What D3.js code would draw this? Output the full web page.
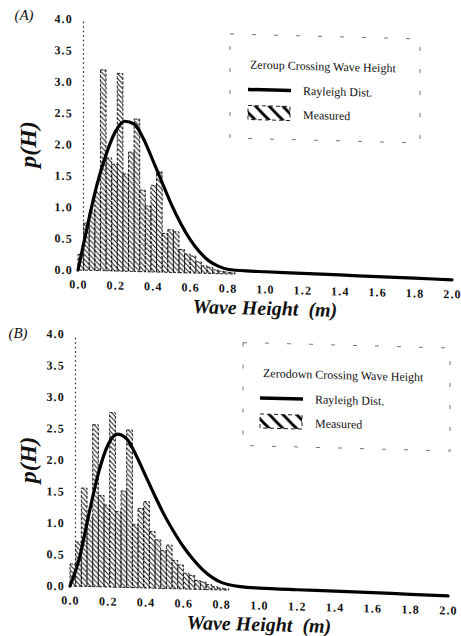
<!DOCTYPE html>
<html lang="en">
<head>
<meta charset="UTF-8">
<script src="https://d3js.org/d3.v7.min.js"></script>
<style>
    body {
        margin: 0;
        background: #fff;
    }
    svg text {
        font-family: "Liberation Serif", "Times New Roman", serif;
        fill: #111;
    }
    .tick text {
        font-size: 12px;
        font-weight: bold;
        letter-spacing: 1.2px;
    }
    .axis-title {
        font-size: 20px;
        font-weight: bold;
        font-style: italic;
    }
    .ylab {
        font-size: 24px;
        font-weight: bold;
        font-style: italic;
    }
    .tag {
        font-size: 15px;
        font-style: italic;
    }
    .legend-text {
        font-size: 12px;
    }
</style>
</head>
<body>
<div id="chart"></div>
<script>
    // histogram bins (m), 0.03 m wide
    const binStart = [0.00, 0.03, 0.06, 0.09, 0.12, 0.15, 0.18, 0.21, 0.24, 0.27,
                      0.30, 0.33, 0.36, 0.39, 0.42, 0.45, 0.48, 0.51, 0.54, 0.57,
                      0.60, 0.63, 0.66, 0.69, 0.72, 0.75, 0.78, 0.81];
    const binWidth = 0.03;

    // measured p(H), zero-up and zero-down crossings
    const measuredUp = [0.25, 0.75, 0.95, 1.25, 3.2, 1.8, 1.7, 3.15, 1.55, 1.9,
                        2.43, 1.3, 1.05, 1.38, 1.6, 0.62, 0.68, 0.65, 0.37, 0.3,
                        0.27, 0.18, 0.12, 0.1, 0.06, 0.04, 0.03, 0.02];
    const measuredDown = [0.35, 0.7, 1.56, 1.1, 2.57, 1.45, 1.3, 2.77, 1.2, 1.53,
                          2.5, 1.0, 1.26, 1.37, 0.9, 0.77, 0.6, 0.69, 0.45, 0.38,
                          0.25, 0.22, 0.14, 0.12, 0.08, 0.05, 0.03, 0.02];

    // Rayleigh curve points
    const curveH = [0, 0.05, 0.1, 0.15, 0.2, 0.25, 0.3, 0.35, 0.4, 0.45, 0.5, 0.55,
                    0.6, 0.65, 0.7, 0.75, 0.8, 0.9, 1.0, 1.2, 1.4, 1.6, 1.8, 2.0];
    const rayleighUp = [0, 0.7, 1.35, 1.85, 2.22, 2.39, 2.35, 2.12, 1.78, 1.43, 1.08, 0.78,
                        0.53, 0.34, 0.2, 0.12, 0.075, 0.055, 0.05, 0.04, 0.03, 0.02, 0.01, 0];
    const rayleighDown = [0, 0.45, 1.15, 1.8, 2.25, 2.43, 2.36, 2.1, 1.78, 1.46, 1.16, 0.9,
                          0.67, 0.48, 0.32, 0.2, 0.12, 0.06, 0.045, 0.035, 0.03, 0.02, 0.01, 0];

    const xTicks = [0, 0.2, 0.4, 0.6, 0.8, 1.0, 1.2, 1.4, 1.6, 1.8, 2.0];
    const yTicks = [0, 0.5, 1.0, 1.5, 2.0, 2.5, 3.0, 3.5, 4.0];

    const panels = [
        {tag: "(A)", tagPos: [24, 20], title: "Zeroup Crossing Wave Height",
         measured: measuredUp, rayleigh: rayleighUp,
         left: 78, right: 452, base: 270, top: 19,
         box: [230, 30, 190, 104], leg: [248, 250]},
        {tag: "(B)", tagPos: [18, 338], title: "Zerodown Crossing Wave Height",
         measured: measuredDown, rayleigh: rayleighDown,
         left: 70, right: 448, base: 586, top: 334,
         box: [243, 338, 207, 103], leg: [260, 263]}
    ];

    const svg = d3.select("#chart")
        .append("svg")
        .attr("width", 461)
        .attr("height", 636);

    const defs = svg.append("defs");

    defs.append("pattern")
        .attr("id", "hatch")
        .attr("patternUnits", "userSpaceOnUse")
        .attr("width", 5)
        .attr("height", 5)
        .append("path")
        .attr("d", "M0,0 L5,5 M-1,4 L1,6 M4,-1 L6,1")
        .attr("stroke", "#111")
        .attr("stroke-width", 0.9);

    defs.append("pattern")
        .attr("id", "hatchBig")
        .attr("patternUnits", "userSpaceOnUse")
        .attr("width", 14)
        .attr("height", 14)
        .append("path")
        .attr("d", "M0,0 L14,14 M-4,10 L4,18 M10,-4 L18,4")
        .attr("stroke", "#000")
        .attr("stroke-width", 3);

    panels.forEach(p => {
        // the scanned page is slightly sheared, so each panel leans a little
        const g = svg.append("g")
            .attr("transform", `translate(${p.left},0) skewY(1.5) translate(${-p.left},0)`);

        const x = d3.scaleLinear().domain([0, 2]).range([p.left, p.right]);
        const y = d3.scaleLinear().domain([0, 4]).range([p.base, p.top]);

        // measured histogram
        g.selectAll(".bar")
            .data(p.measured)
            .enter()
            .append("rect")
            .attr("class", "bar")
            .attr("x", (d, i) => x(binStart[i]))
            .attr("y", d => y(d))
            .attr("width", x(binWidth) - x(0))
            .attr("height", d => y(0) - y(d))
            .attr("fill", "url(#hatch)")
            .attr("stroke", "#111")
            .attr("stroke-width", 0.9)
            .attr("stroke-dasharray", "3,1.5");

        // Rayleigh distribution
        const line = d3.line()
            .x((d, i) => x(curveH[i]))
            .y(d => y(d))
            .curve(d3.curveMonotoneX);

        g.append("path")
            .datum(p.rayleigh)
            .attr("d", line)
            .attr("fill", "none")
            .attr("stroke", "#000")
            .attr("stroke-width", 3.2)
            .attr("stroke-linecap", "round");

        // axes: labels only, dotted y axis line
        const xAxis = g.append("g")
            .attr("transform", `translate(0,${p.base})`)
            .call(d3.axisBottom(x).tickValues(xTicks).tickSize(0).tickPadding(10)
                .tickFormat(d3.format(".1f")));
        xAxis.select(".domain").remove();

        const yAxis = g.append("g")
            .attr("transform", `translate(${p.left + 5},0)`)
            .call(d3.axisLeft(y).tickValues(yTicks).tickSize(0).tickSizeOuter(0).tickPadding(10)
                .tickFormat(d3.format(".1f")));
        yAxis.select(".domain")
            .attr("stroke", "#222")
            .attr("stroke-width", 1.2)
            .attr("stroke-dasharray", "1.5,3");

        g.selectAll(".tick text").attr("font-family", null).attr("font-size", null);

        g.append("text")
            .attr("class", "axis-title")
            .attr("x", x(1.0))
            .attr("y", p.base + 40)
            .attr("text-anchor", "middle")
            .attr("xml:space", "preserve")
            .text("Wave Height  (m)");

        svg.append("text")
            .attr("class", "ylab")
            .attr("transform", `translate(36,${(p.base + p.top) / 2}) rotate(-90)`)
            .attr("text-anchor", "middle")
            .text("p(H)");

        svg.append("text")
            .attr("class", "tag")
            .attr("x", p.tagPos[0])
            .attr("y", p.tagPos[1])
            .attr("text-anchor", "middle")
            .text(p.tag);

        // legend
        const [bx, by, bw, bh] = p.box;
        g.append("rect")
            .attr("x", bx).attr("y", by)
            .attr("width", bw).attr("height", bh)
            .attr("fill", "none")
            .attr("stroke", "#777")
            .attr("stroke-width", 1)
            .attr("stroke-dasharray", "4,18");

        const sx = p.leg[0];
        g.append("text")
            .attr("class", "legend-text")
            .attr("x", p.leg[1])
            .attr("y", by + 34)
            .text(p.title);

        g.append("line")
            .attr("x1", sx).attr("x2", sx + 43)
            .attr("y1", by + 55).attr("y2", by + 55)
            .attr("stroke", "#000")
            .attr("stroke-width", 3.5);

        g.append("text")
            .attr("class", "legend-text")
            .attr("x", sx + 55)
            .attr("y", by + 59)
            .text("Rayleigh Dist.");

        g.append("rect")
            .attr("x", sx).attr("y", by + 71)
            .attr("width", 42).attr("height", 14)
            .attr("fill", "url(#hatchBig)")
            .attr("stroke", "#222")
            .attr("stroke-width", 1)
            .attr("stroke-dasharray", "4,3");

        g.append("text")
            .attr("class", "legend-text")
            .attr("x", sx + 55)
            .attr("y", by + 83)
            .text("Measured");
    });
</script>
</body>
</html>
